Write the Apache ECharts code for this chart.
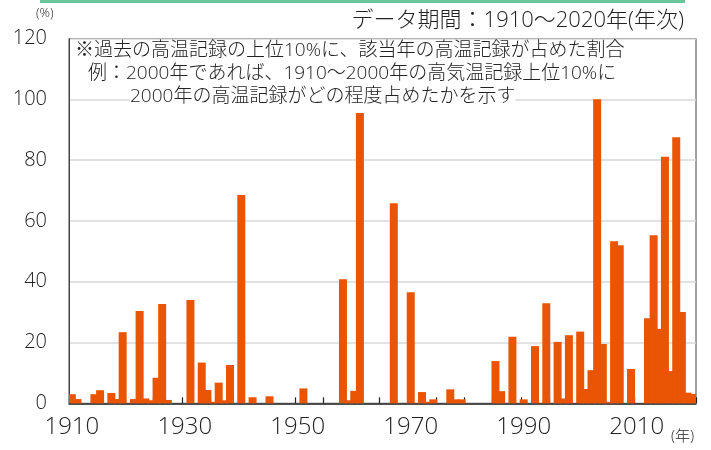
<!DOCTYPE html>
<html><head><meta charset="utf-8">
<script src="https://cdn.jsdelivr.net/npm/echarts@6/dist/echarts.min.js"></script>
<style>html,body{margin:0;padding:0;background:#fff}#c{width:711px;height:450px}</style>
</head><body><div id="c"></div>
<script>
const startYear = 1910, endYear = 2020;
const years = [];
for (let y = startYear; y <= endYear; y++) years.push(String(y));
// share (%) for each year 1910..2020
const v1910s = [3.0, 1.4, 0, 0, 3.0, 4.3, 0, 3.4, 1.4, 23.4];
const v1920s = [0, 1.4, 30.4, 1.6, 1.0, 8.4, 32.7, 1.1, 0, 0];
const v1930s = [0, 34.0, 0, 13.4, 4.4, 0.5, 6.8, 1.0, 12.6, 0];
const v1940s = [68.5, 0, 2.0, 0, 0, 2.3, 0, 0, 0, 0];
const v1950s = [0, 4.9, 0, 0, 0, 0, 0, 0, 40.8, 1.0];
const v1960s = [4.1, 95.5, 0, 0, 0, 0, 0, 65.8, 0, 0];
const v1970s = [36.5, 0, 3.7, 0.5, 1.3, 0, 0, 4.6, 1.3, 1.3];
const v1980s = [0, 0, 0, 0, 0, 13.9, 4.0, 0, 21.9, 0];
const v1990s = [1.3, 0, 18.8, 0, 32.9, 0, 20.2, 1.6, 22.4, 0];
const v2000s = [23.6, 4.7, 10.9, 100, 19.5, 0.5, 53.3, 52.0, 0, 11.3];
const v2010s = [0, 0, 28.0, 55.3, 24.5, 81.1, 10.6, 87.5, 30.0, 3.5, 3.1];
const values = [].concat(v1910s, v1920s, v1930s, v1940s, v1950s, v1960s, v1970s, v1980s, v1990s, v2000s, v2010s);
const yTicks = [0, 20, 40, 60, 80, 100, 120];

const FONT = '"Open Sans", "Noto Sans CJK JP", sans-serif';
const chart = echarts.init(document.getElementById('c'), null, {renderer: 'canvas'});
chart.setOption({
  animation: false,
  backgroundColor: '#fff',
  grid: {left: 69, right: 15, top: 38.5, bottom: 46.7, show: true, borderColor: '#444', borderWidth: 1, backgroundColor: 'transparent'},
  xAxis: {
    type: 'category', data: years, boundaryGap: true,
    axisLine: {lineStyle: {color: '#222', width: 1.5}},
    axisTick: {show: true, inside: true, length: 6, interval: 4, lineStyle: {color: '#222', width: 1.2}},
    axisLabel: {interval: 19, color: '#222', fontSize: 24, fontWeight: 300, fontFamily: FONT, margin: 12},
    splitLine: {show: false}
  },
  yAxis: {
    type: 'value', min: yTicks[0], max: yTicks[yTicks.length - 1], interval: 20,
    axisLine: {show: true, lineStyle: {color: '#444', width: 1}},
    axisTick: {show: false},
    axisLabel: {color: '#222', fontSize: 20, fontWeight: 300, fontFamily: FONT, margin: 22},
    splitLine: {lineStyle: {color: '#d9d9d9', width: 1.5}}
  },
  series: [{
    type: 'bar', data: values, barWidth: '100%', barMinWidth: 8,
    itemStyle: {color: '#E95504'},
    z: 2
  }],
  graphic: [
    {type: 'rect', left: 40, top: 0, shape: {width: 645, height: 3}, style: {fill: '#6CC49A'}},
    {type: 'text', left: 36, top: 7, style: {text: '(%)', font: '300 13px ' + FONT, fill: '#222'}},
    {type: 'text', right: 27, top: 10, style: {text: 'データ期間：1910～2020年(年次)', font: '300 22px ' + FONT, fill: '#222'}},
    {type: 'text', left: 75, top: 41, z: 10, style: {text: '※過去の高温記録の上位10%に、該当年の高温記録が占めた割合', font: '300 19px ' + FONT, fill: '#222'}},
    {type: 'text', left: 88, top: 64, z: 10, style: {text: '例：2000年であれば、1910～2000年の高気温記録上位10%に', font: '300 19px ' + FONT, fill: '#222'}},
    {type: 'text', left: 130, top: 87, z: 10, style: {text: '2000年の高温記録がどの程度占めたかを示す', font: '300 19px ' + FONT, fill: '#222', backgroundColor: '#fff'}},
    {type: 'text', left: 671, top: 429, style: {text: '(年)', font: '300 15px ' + FONT, fill: '#222'}}
  ]
});
</script></body></html>
